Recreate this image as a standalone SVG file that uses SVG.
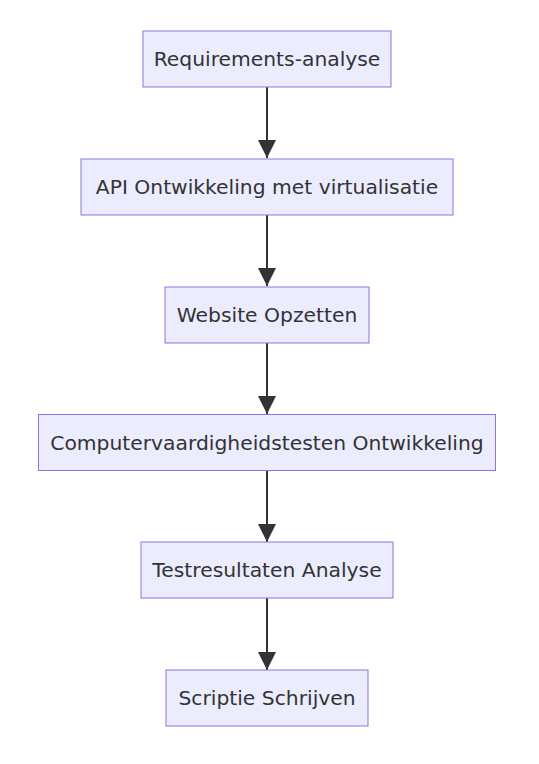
<svg xmlns="http://www.w3.org/2000/svg" width="539" height="764" viewBox="0 0 539 764">
<defs>
<style>
.node rect{fill:#ECECFF;stroke:#9370DB;stroke-width:1}
.node text{font-family:"DejaVu Sans",Verdana,sans-serif;font-size:20.3px;fill:#333333;text-anchor:middle;dominant-baseline:central}
.edge{stroke:#333333;stroke-width:2;fill:none}
</style>
<marker id="arrow" viewBox="0 0 10 10" refX="10" refY="5" markerUnits="userSpaceOnUse" markerWidth="18" markerHeight="18" orient="auto">
<path d="M0,0 L10,5 L0,10 z" fill="#333333"/>
</marker>
</defs>
<rect width="539" height="764" fill="#ffffff"/>
<g id="edges">
<line class="edge" x1="267" y1="87" x2="267" y2="158" marker-end="url(#arrow)"/>
<line class="edge" x1="267" y1="215" x2="267" y2="286" marker-end="url(#arrow)"/>
<line class="edge" x1="267" y1="343" x2="267" y2="414" marker-end="url(#arrow)"/>
<line class="edge" x1="267" y1="470" x2="267" y2="542" marker-end="url(#arrow)"/>
<line class="edge" x1="267" y1="598" x2="267" y2="670" marker-end="url(#arrow)"/>
</g>
<g id="n1" class="node"><rect x="143" y="31" width="248" height="56"/><text x="267" y="59">Requirements-analyse</text></g>
<g id="n2" class="node"><rect x="81" y="159" width="372" height="56"/><text x="267" y="187">API Ontwikkeling met virtualisatie</text></g>
<g id="n3" class="node"><rect x="165" y="287" width="204" height="56"/><text x="267" y="315">Website Opzetten</text></g>
<g id="n4" class="node"><rect x="38.5" y="414.5" width="457" height="56"/><text x="267" y="442.5">Computervaardigheidstesten Ontwikkeling</text></g>
<g id="n5" class="node"><rect x="141" y="542" width="252" height="56"/><text x="267" y="570">Testresultaten Analyse</text></g>
<g id="n6" class="node"><rect x="166" y="670" width="202" height="56"/><text x="267" y="698">Scriptie Schrijven</text></g>
</svg>
